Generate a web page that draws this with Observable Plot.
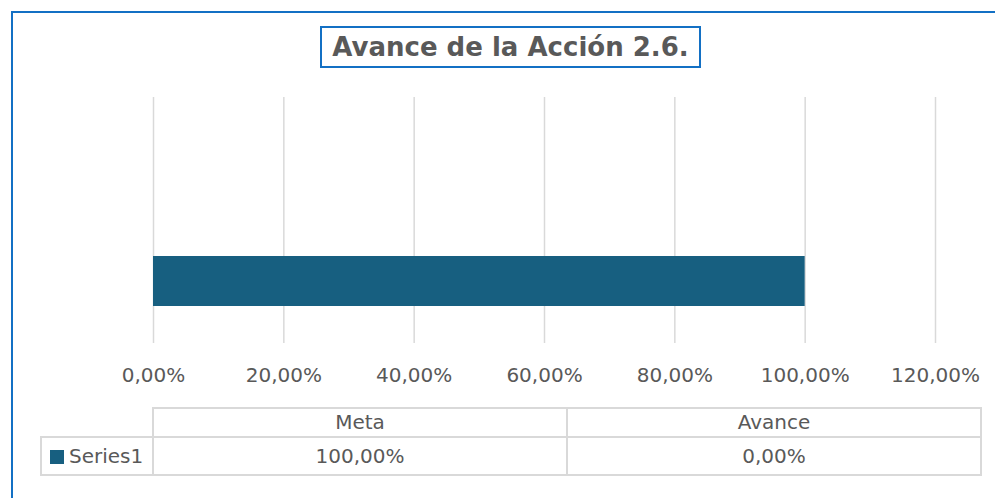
<!DOCTYPE html>
<html>
<head>
<meta charset="utf-8">
<script src="https://cdn.jsdelivr.net/npm/d3@7"></script>
<script src="https://cdn.jsdelivr.net/npm/@observablehq/plot@0.6"></script>
<style>
  html, body { margin: 0; padding: 0; background: #fff; overflow: hidden; }
  #wrap { position: relative; width: 995px; height: 498px; overflow: hidden; font-family: "DejaVu Sans", sans-serif; color: #595959; }
  #frame { position: absolute; left: 11px; top: 11px; width: 1000px; height: 500px; border: 2px solid #1370C4; box-sizing: border-box; }
  #title { position: absolute; left: 320px; top: 26px; width: 381px; height: 42px; box-sizing: border-box; border: 2px solid #1370C4; font-weight: bold; font-size: 26px; line-height: 39px; text-align: center; color: #595959; background: #fff; white-space: nowrap; }
  #chart { position: absolute; left: 0; top: 0; }
  .cell { position: absolute; box-sizing: border-box; border: 2px solid #d9d9d9; font-size: 20px; text-align: center; color: #595959; white-space: nowrap; }
  .sw { display: inline-block; width: 14px; height: 14px; vertical-align: -1px; margin-right: 5px; }
</style>
</head>
<body>
<div id="wrap">
  <div id="frame"></div>
  <div id="chart"></div>
  <div id="title"></div>
</div>
<script>
// ---- data ----
const titleText = "Avance de la Acción 2.6.";
const seriesName = "Series1";
const categories = ["Meta", "Avance"];
const values = [1.0, 0.0];
const xTicks = [0, 0.2, 0.4, 0.6, 0.8, 1.0, 1.2];
const barColor = "#175F80";

const fmt = d => (d * 100).toFixed(2).replace(".", ",") + "%";
const data = categories.map((c, i) => ({category: c, value: values[i]}));

document.getElementById("title").textContent = titleText;

const chart = Plot.plot({
  width: 995,
  height: 498,
  marginLeft: 153,
  marginRight: 60,
  marginTop: 97,
  marginBottom: 155,
  style: {fontFamily: "DejaVu Sans, sans-serif", fontSize: "20px", color: "#595959", background: "transparent"},
  x: {domain: [0, 1.2], ticks: xTicks, tickFormat: fmt, label: null},
  y: {type: "band", domain: [...categories].reverse(), paddingInner: 0.593, paddingOuter: 0.297, axis: null},
  marks: [
    Plot.gridX(xTicks, {stroke: "#d9d9d9", strokeOpacity: 1, strokeWidth: 1.5}),
    Plot.barX(data, {x: "value", y: "category", fill: barColor}),
    Plot.axisX(xTicks, {tickSize: 0, tickPadding: 24, tickFormat: fmt, fontSize: 20, label: null})
  ]
});
document.getElementById("chart").appendChild(chart);

// ---- data table below the chart ----
const wrap = document.getElementById("wrap");
function cell(x, y, w, h, html, lh, align) {
  const d = document.createElement("div");
  d.className = "cell";
  Object.assign(d.style, {left: x + "px", top: y + "px", width: w + "px", height: h + "px", lineHeight: lh + "px", textAlign: align || "center"});
  d.innerHTML = html;
  wrap.appendChild(d);
}
const colX = [152, 566];
const colW = 416;
categories.forEach((c, i) => cell(colX[i], 407, colW, 31, c, 27));
cell(40, 436, 114, 40, `<span class="sw" style="background:${barColor}"></span>${seriesName}`, 36, "left");
wrap.lastChild.style.paddingLeft = "8px";
values.forEach((v, i) => cell(colX[i], 436, colW, 40, fmt(v), 36));
</script>
</body>
</html>
